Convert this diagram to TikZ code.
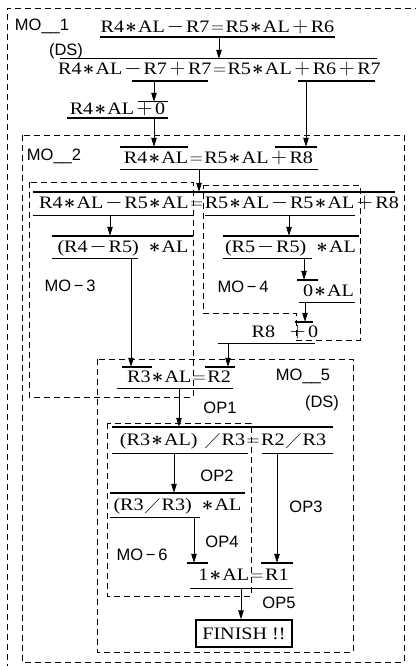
\RequirePackage{fix-cm}
\documentclass[tikz,border=0pt]{standalone}
\usepackage{amssymb}
\usepackage{fontspec}
\setmainfont[FakeStretch=1.15]{Liberation Serif}
\newfontfamily\labfont{Liberation Sans}
\usetikzlibrary{arrows.meta}

% full-width operators
\newcommand{\opmul}{\makebox[14pt]{\fontsize{20}{20}\selectfont\boldmath$\ast$}}
\newcommand{\opmin}{\makebox[21pt]{\fontsize{22}{22}\selectfont$-$}}
\newcommand{\opplus}{\makebox[21pt]{\fontsize{22}{22}\selectfont$+$}}
\newcommand{\opeq}{\makebox[16pt]{\fontsize{18}{18}\selectfont$=$}}
\newcommand{\opdiv}{\makebox[18pt]{\fontsize{17}{17}\selectfont$\diagup$}}

\begin{document}
\begin{tikzpicture}[x=1pt, y=-1pt,
  eq/.style={font=\fontsize{17.5}{20}\selectfont, inner xsep=0pt, inner ysep=#1,
    text height=12pt, text depth=2pt},
  eq/.default=4pt,
  lab/.style={font=\labfont\fontsize{16.5}{18}\selectfont, inner sep=0pt,
    text height=11.8pt, text depth=0pt},
  bar/.style={line width=1.4pt},
  arr/.style={line width=0.8pt, -{Triangle[length=9pt,width=5.5pt]}},
  mobox/.style={line width=0.8pt, dash pattern=on 6pt off 4pt}]

  \useasboundingbox (0,0) rectangle (415,666);

  % module boxes
  \draw[mobox] (7,670) -- (7,8) -- (420,8);
  \draw[mobox] (22,135) rectangle (404,662);
  \draw[mobox] (29,182) rectangle (193,397);
  \draw[mobox] (203,185) -- (360,185) -- (360,340) -- (296,340)
    -- (296,313) -- (203,313) -- cycle;
  \draw[mobox] (97,359) rectangle (353,652);
  \draw[mobox] (107,423) rectangle (251,596);

  % module labels
  \node[lab] (mo1) at (42,25) {MO\_\_1};
  \node[lab] (ds1) at (66,50) {(DS)};
  \node[lab] (mo2) at (54,155) {MO\_\_2};
  \node[lab] (mo3) at (70,286) {MO\,−\,3};
  \node[lab] (mo4) at (243,287) {MO\,−\,4};
  \node[lab] (mo5) at (303,375) {MO\_\_5};
  \node[lab] (ds5) at (322,402) {(DS)};
  \node[lab] (mo6) at (142,555) {MO\,−\,6};
  \node[lab] (op1) at (220,408) {OP1};
  \node[lab] (op2) at (217,476) {OP2};
  \node[lab] (op3) at (306,507) {OP3};
  \node[lab] (op4) at (222,542) {OP4};
  \node[lab] (op5) at (279,603) {OP5};

  % equations
  \node[eq=2pt] (e1) at (217.5,28) {R4\opmul AL\opmin R7\opeq R5\opmul AL\opplus R6};
  \node[eq] (e2) at (219.5,70) {R4\opmul AL\opmin R7\opplus R7\opeq R5\opmul AL\opplus R6\opplus R7};
  \node[eq=1pt] (e3) at (117.5,110) {R4\opmul AL\opplus 0};
  \node[eq] (e4) at (218.5,158) {R4\opmul AL\opeq R5\opmul AL\opplus R8};
  \node[eq=4.5pt] (e5) at (219,203.5) {R4\opmul AL\opmin R5\opmul AL\opeq R5\opmul AL\opmin R5\opmul AL\opplus R8};
  \node[eq] (e6) at (123,247) {(R4\opmin R5)\enskip\opmul AL};
  \node[eq] (e7) at (290.5,247) {(R5\opmin R5)\enskip\opmul AL};
  \node[eq] (e8) at (328.5,291) {0\opmul AL};
  \node[eq=3.5pt] (e9) at (285,332.5) {R8\hspace{12pt}\opplus 0};
  \node[eq=3.5pt] (e10) at (179,377.5) {R3\opmul AL\opeq R2};
  \node[eq=6pt] (e11) at (223,440) {(R3\opmul AL)\hspace{6pt}\opdiv R3\opeq R2\opdiv R3};
  \node[eq=5pt] (e12) at (177.5,505) {(R3\opdiv R3)\enskip\opmul AL};
  \node[eq=5.5pt] (e13) at (243.5,575.5) {1\opmul AL\opeq R1};
  \node[draw, line width=1.5pt, minimum width=96pt, minimum height=27pt,
    inner sep=0pt, font=\fontsize{17.5}{20}\selectfont] (fin) at (244,633.5) {FINISH !!};

  % over and under bars
  \draw[bar] (e1.south -| 100,0) -- (e1.south -| 335,0);
  \draw[bar] (e2.north -| 60,0) -- (e2.north -| 377,0);
  \draw[bar] (e2.south -| 132,0) -- (e2.south -| 208,0);
  \draw[bar] (e2.south -| 298,0) -- (e2.south -| 375,0);
  \draw[bar] (e3.north -| 138,0) -- (e3.north -| 168,0);
  \draw[bar] (e3.south -| 67,0) -- (e3.south -| 168,0);
  \draw[bar] (e4.north -| 120,0) -- (e4.north -| 188,0);
  \draw[bar] (e4.north -| 275,0) -- (e4.north -| 317,0);
  \draw[bar] (e4.south -| 120,0) -- (e4.south -| 318,0);
  \draw[bar] (e5.north -| 33,0) -- (e5.north -| 395,0);
  \draw[bar] (e5.south -| 33,0) -- (e5.south -| 193,0);
  \draw[bar] (e5.south -| 205,0) -- (e5.south -| 355,0);
  \draw[bar] (e6.north -| 52,0) -- (e6.north -| 193,0);
  \draw[bar] (e6.south -| 52,0) -- (e6.south -| 138,0);
  \draw[bar] (e7.north -| 223,0) -- (e7.north -| 359,0);
  \draw[bar] (e7.south -| 223,0) -- (e7.south -| 312,0);
  \draw[bar] (e8.north -| 297,0) -- (e8.north -| 318,0);
  \draw[bar] (e8.south -| 299,0) -- (e8.south -| 355,0);
  \draw[bar] (e9.north -| 295,0) -- (e9.north -| 313,0);
  \draw[bar] (e9.south -| 218,0) -- (e9.south -| 315,0);
  \draw[bar] (e10.north -| 122,0) -- (e10.north -| 152,0);
  \draw[bar] (e10.north -| 205,0) -- (e10.north -| 235,0);
  \draw[bar] (e10.south -| 117,0) -- (e10.south -| 233,0);
  \draw[bar] (e11.north -| 112,0) -- (e11.north -| 333,0);
  \draw[bar] (e11.south -| 112,0) -- (e11.south -| 248,0);
  \draw[bar] (e11.south -| 262,0) -- (e11.south -| 333,0);
  \draw[bar] (e12.north -| 110,0) -- (e12.north -| 245,0);
  \draw[bar] (e12.south -| 110,0) -- (e12.south -| 200,0);
  \draw[bar] (e13.north -| 187,0) -- (e13.north -| 208,0);
  \draw[bar] (e13.north -| 261,0) -- (e13.north -| 293,0);
  \draw[bar] (e13.south -| 190,0) -- (e13.south -| 293,0);

  % steps
  \draw[arr] (e1.south -| 219,0) -- (e2.north -| 219,0);
  \draw[arr] (e2.south -| 154,0) -- (e3.north -| 154,0);
  \draw[arr] (e2.south -| 306,0) -- (e4.north -| 306,0);
  \draw[arr] (e3.south -| 154,0) -- (e4.north -| 154,0);
  \draw[arr] (e4.south -| 199,0) -- (e5.north -| 199,0);
  \draw[arr] (e5.south -| 110,0) -- (e6.north -| 110,0);
  \draw[arr] (e5.south -| 289,0) -- (e7.north -| 289,0);
  \draw[arr] (e6.south -| 131,0) -- (e10.north -| 131,0);
  \draw[arr] (e7.south -| 304,0) -- (e8.north -| 304,0);
  \draw[arr] (e8.south -| 305,0) -- (e9.north -| 305,0);
  \draw[arr] (e9.south -| 228,0) -- (e10.north -| 228,0);
  \draw[arr] (e10.south -| 179,0) -- (e11.north -| 179,0);
  \draw[arr] (e11.south -| 174,0) -- (e12.north -| 174,0);
  \draw[arr] (e11.south -| 277,0) -- (e13.north -| 277,0);
  \draw[arr] (e12.south -| 194,0) -- (e13.north -| 194,0);
  \draw[arr] (e13.south -| 241,0) -- (fin.north -| 241,0);
\end{tikzpicture}
\end{document}
